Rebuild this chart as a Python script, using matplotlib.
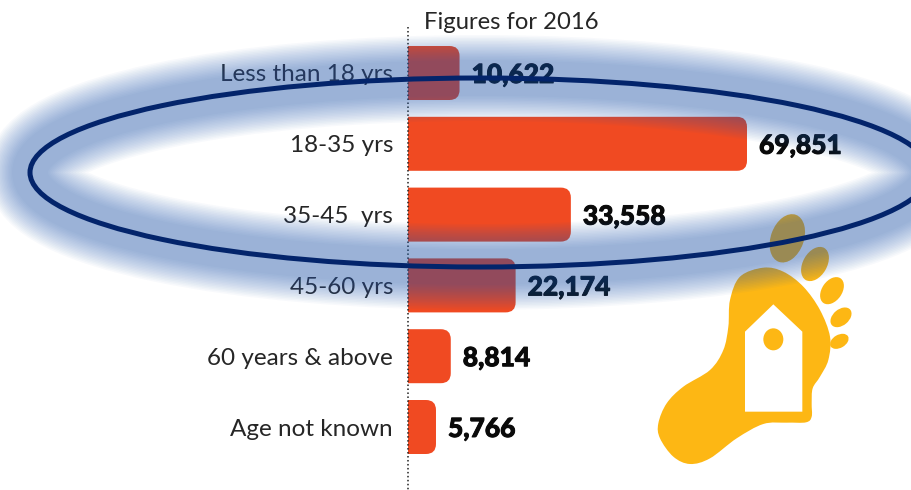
import matplotlib
matplotlib.use('Agg')
from matplotlib import pyplot as plt
from matplotlib import patheffects
from matplotlib.patches import Ellipse, FancyBboxPatch, PathPatch, Polygon, Rectangle
from matplotlib.path import Path
import numpy as np

plt.rcParams['font.family'] = ['Lato', 'DejaVu Sans']

categories = ['Less than 18 yrs', '18-35 yrs', '35-45  yrs', '45-60 yrs', '60 years & above', 'Age not known']
values = [10622, 69851, 33558, 22174, 8814, 5766]
title = 'Figures for 2016'

W, H = 912, 490
BAR_COLOR = '#F04A22'
FOOT_COLOR = '#FDB714'
GLOW_COLOR = '#295FB6'
RING_COLOR = '#03246B'
px_x = 69851 / 339  # units per pixel
px_y = 1 / 70.8

fig = plt.figure(figsize=(W / 100, H / 100), dpi=100)

# main chart, scaled so that zero sits on the dotted line
ax = fig.add_axes([0, 0, 1, 1])
ax.set_xlim(-408 * px_x, (W - 408) * px_x)
ax.set_ylim((H - 73) * px_y, -73 * px_y)
ax.axis('off')

y_pos = np.arange(len(values))
bar_h = 54 * px_y
r = 10 * px_x
heavy = [patheffects.withStroke(linewidth=0.7, foreground='#0A0A0A')]
for y, v, name in zip(y_pos, values, categories):
    # box starts left of zero and is clipped there, so only the right end is rounded
    bar = FancyBboxPatch((-2 * r, y - bar_h / 2), v + 2 * r, bar_h, boxstyle='round,pad=0,rounding_size=%f' % r,
                         mutation_aspect=px_y / px_x, fc=BAR_COLOR, ec='none', zorder=2)
    ax.add_patch(bar)
    bar.set_clip_path(Rectangle((0, -2), 2 * max(values), 10, transform=ax.transData))
    ax.annotate(name, (0, y), xytext=(-15, -2), textcoords='offset pixels', ha='right', va='center',
                fontsize=17.5, color='#262626', zorder=3)
    ax.annotate(format(v, ','), (v, y), xytext=(12, -2), textcoords='offset pixels', ha='left', va='center',
                fontsize=19, fontweight='black', color='#0A0A0A', zorder=3, path_effects=heavy)

ax.plot([0, 0], [(27 - 73) * px_y, (H - 73) * px_y], color='#222222', lw=1.1, ls=(0, (1, 1.6)), zorder=4)
ax.annotate(title, (0, -1), xytext=(16, -20), textcoords='offset pixels',
            ha='left', va='center', fontsize=17.2, color='#262626')

# overlay in pixel coordinates: footprint, glow and ring
ov = fig.add_axes([0, 0, 1, 1], facecolor='none')
ov.set_xlim(0, W)
ov.set_ylim(H, 0)
ov.axis('off')


def zoom_pt(pts):
    return [(640 + a / 3, 200 + b / 3) for a, b in pts]


def smooth_path(pts):  # closed catmull-rom through the points
    pts = np.array(pts, dtype=float)
    n = len(pts)
    verts = [pts[0]]
    codes = [Path.MOVETO]
    for i in range(n):
        p0, p1, p2, p3 = pts[i - 1], pts[i], pts[(i + 1) % n], pts[(i + 2) % n]
        verts += [p1 + (p2 - p0) / 6, p2 - (p3 - p1) / 6, p2]
        codes += [Path.CURVE4] * 3
    return Path(verts, codes)


foot = [(370, 203), (430, 215), (490, 260), (540, 330), (570, 410), (565, 480), (540, 530), (518, 565),
        (515, 610), (515, 650), (498, 667), (440, 668), (370, 672), (290, 715), (210, 775), (150, 792), (100, 770),
        (60, 715), (55, 670), (80, 610), (130, 560), (210, 510), (250, 450), (265, 380), (270, 300), (300, 230)]
ov.add_patch(PathPatch(smooth_path(zoom_pt(foot)), fc=FOOT_COLOR, ec='none', zorder=1))
tag = [(315, 395), (400, 313), (487, 395), (487, 635), (315, 635)]
ov.add_patch(Polygon(zoom_pt(tag), closed=True, fc='white', ec='none', zorder=2))
ov.add_patch(Ellipse(zoom_pt([(400, 418)])[0], 20, 22, fc=FOOT_COLOR, ec='none', zorder=3))
# centre x, centre y, long side, short side, lean from vertical
toes = [(442, 115, 50, 33, 20), (525, 192, 37, 24, 30), (576, 272, 30, 20, 35), (603, 352, 24, 16, 50), (598, 424, 20, 13, 60)]
for a, b, major, minor, lean in toes:
    ov.add_patch(Ellipse(zoom_pt([(a, b)])[0], major, minor, angle=lean - 90, fc=FOOT_COLOR, ec='none', zorder=1))

CENTER = (480, 172.5)
RX, RY = 450, 94.5
# stacked wide strokes make the soft blue glow
for width in np.linspace(36, 86, 18):
    ov.add_patch(Ellipse(CENTER, 2 * RX, 2 * RY, fc='none', ec=GLOW_COLOR, alpha=0.03, lw=width * 0.72, zorder=4))
ov.add_patch(Ellipse(CENTER, 2 * RX, 2 * RY, fc='none', ec=RING_COLOR, lw=3.6, zorder=5))

fig.savefig('out.png', dpi=100)
